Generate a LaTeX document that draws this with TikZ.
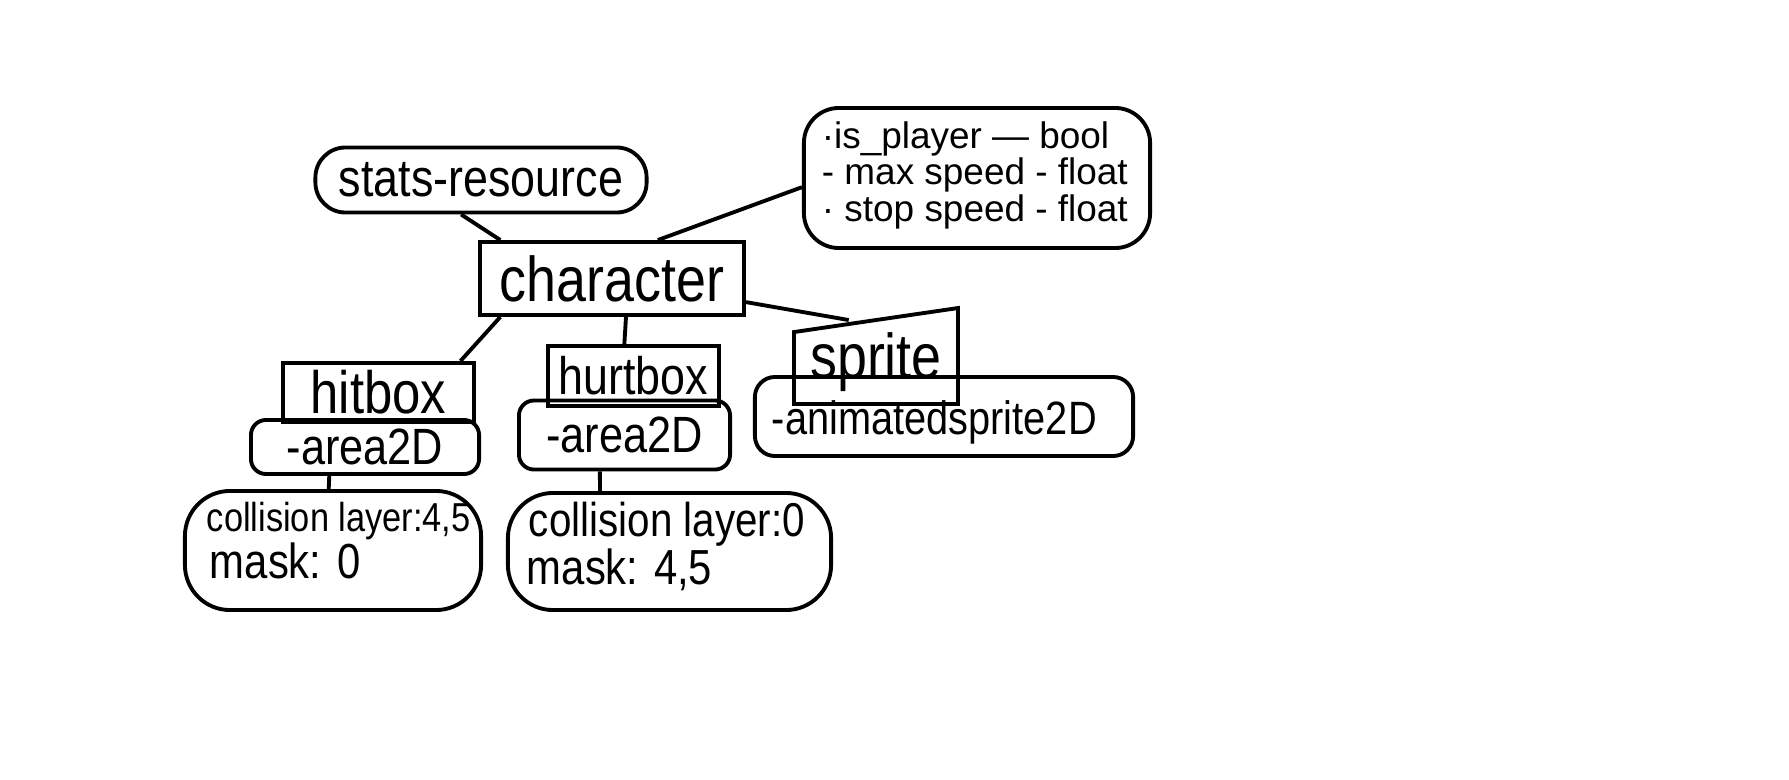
\documentclass[tikz,border=0pt]{standalone}
\usepackage{fontspec}
\setmainfont{Liberation Sans}
\usepackage{graphicx}
\newcommand\hw[1]{\scalebox{0.85}[1]{#1}}
\newcommand\fsz[1]{\fontsize{#1}{#1}\selectfont}
\begin{document}
\begin{tikzpicture}[x=0.01cm,y=-0.01cm,line width=1.1pt,
  sharpbox/.style={draw,inner sep=0pt},
  blob/.style={draw,rounded corners=#1,inner sep=0pt},
  txt/.style={inner sep=0pt,anchor=base west},
  link/.style={line width=1.1pt}]
\useasboundingbox (0,0) rectangle (1789,779);
% top level
\node[blob=0.3cm,minimum width=3.31cm,minimum height=0.65cm] (stats) at (481,180) {\fsz{15}\hw{stats-resource}};
\node[blob=0.35cm,minimum width=3.46cm,minimum height=1.40cm] (attrs) at (977,178) {};
\node[txt] (attr1) at (820,149) {\fsz{10.5}·is\_player — bool};
\node[txt] (attr2) at (820,185) {\fsz{10.5}- max speed - float};
\node[txt] (attr3) at (820,221) {\fsz{10.5}· stop speed - float};
\node[sharpbox,minimum width=2.64cm,minimum height=0.73cm] (character) at (612,278.5) {\fsz{18}\hw{character}};
% hitbox branch
\node[sharpbox,minimum width=1.91cm,minimum height=0.59cm] (hitbox) at (378.5,392.5) {\fsz{17}\hw{hitbox}};
\node[blob=0.15cm,minimum width=2.28cm,minimum height=0.54cm] (area1) at (365,447) {\fsz{14.5}\hw{-area2D}};
\node[blob=0.45cm,minimum width=2.96cm,minimum height=1.19cm] (coll1) at (333,550.5) {};
\node[txt] (coll1a) at (205,531) {\fsz{11.5}\hw{collision layer:4,5}};
\node[txt] (coll1b) at (208,578) {\fsz{14}\hw{mask: 0}};
% hurtbox branch
\node[sharpbox,minimum width=1.71cm,minimum height=0.60cm] (hurtbox) at (633.5,376) {\fsz{15}\hw{hurtbox}};
\node[blob=0.15cm,minimum width=2.11cm,minimum height=0.69cm] (area2) at (624.5,435) {\fsz{14.5}\hw{-area2D}};
\node[blob=0.45cm,minimum width=3.23cm,minimum height=1.17cm] (coll2) at (669.5,551.5) {};
\node[txt] (coll2a) at (527,536) {\fsz{13.5}\hw{collision layer:0}};
\node[txt] (coll2b) at (525,584) {\fsz{14}\hw{mask: 4,5}};
% sprite branch
\node[inner sep=0pt,minimum width=1.60cm,minimum height=0.80cm] (sprite) at (876,362) {\fsz{18}\hw{sprite}};
\draw (sprite.south west) -- ([yshift=-0.12cm]sprite.north west) -- ([yshift=0.12cm]sprite.north east) -- (sprite.south east) -- cycle;
\node[blob=0.2cm,minimum width=3.78cm,minimum height=0.79cm] (anim) at (944,416.5) {};
\node[txt] (animtxt) at (770,434) {\fsz{13.3}\hw{-animatedsprite2D}};
% connectors
\draw[link] (stats.240) -- (character.161);
\draw[link] (character.40) -- (attrs.183);
\draw[link] (character.199) -- (hitbox.21);
\draw[link] (character.290) -- (hurtbox.106);
\draw[link] (character.350) -- (sprite.123);
\draw[link] (area1.219) -- (coll1.94);
\draw[link] (area2.236) -- (coll2.139);
\end{tikzpicture}
\end{document}
